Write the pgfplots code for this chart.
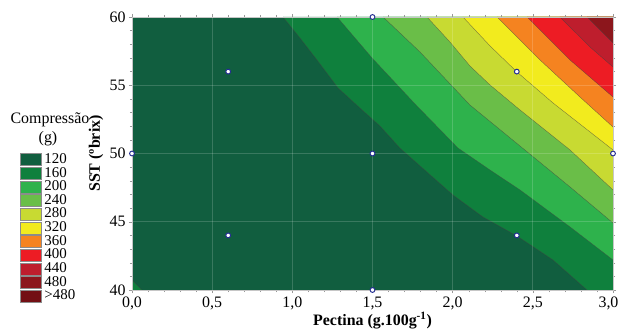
\documentclass[border=0pt]{standalone}
\usepackage{fontspec}
\setmainfont{Liberation Serif}
\usepackage{pgfplots}
\pgfplotsset{compat=1.18}

\definecolor{c120}{RGB}{17,94,63}
\definecolor{c160}{RGB}{15,128,61}
\definecolor{c200}{RGB}{46,178,76}
\definecolor{c240}{RGB}{106,190,72}
\definecolor{c280}{RGB}{200,218,50}
\definecolor{c320}{RGB}{242,235,30}
\definecolor{c360}{RGB}{245,131,32}
\definecolor{c400}{RGB}{237,28,36}
\definecolor{c440}{RGB}{190,30,45}
\definecolor{c480}{RGB}{140,22,28}
\definecolor{c500}{RGB}{115,15,20}
\definecolor{cpt}{RGB}{35,45,145}

\pgfplotsset{
  band/.style={draw=none, forget plot},
  cline/.style={draw=black!75, line width=0.35pt, opacity=0.7, forget plot},
}

\begin{document}
\begin{tikzpicture}
\path[use as bounding box] (0,0) rectangle (620bp,330bp);
\begin{axis}[
  at={(132bp,40bp)}, anchor=south west,
  width=481bp, height=273bp, scale only axis,
  xmin=0, xmax=3, ymin=40, ymax=60,
  xtick={0,0.5,1,1.5,2,2.5,3},
  xticklabels={{0,0},{0,5},{1,0},{1,5},{2,0},{2,5},{\hspace*{-9bp}3,0}},
  ytick={40,45,50,55,60},
  yticklabels={40,45,50,55,60},
  minor x tick num=4, minor y tick num=4,
  tick align=outside, major tick length=3bp, minor tick length=2bp,
  tick style={gray!80, line width=0.4pt},
  grid=major,
  major grid style={white, opacity=0.17, line width=0.7pt},
  axis line style={gray!45, line width=0.6pt},
  axis background/.style={fill=c120},
  axis on top,
  tick label style={font=\fontsize{16}{16}\selectfont},
  label style={font=\fontsize{16}{16}\selectfont},
  xlabel={\textbf{Pectina (g.100g\textsuperscript{-1})}},
  ylabel={\textbf{SST (ºbrix)}},
  xlabel style={at={(axis description cs:0.5,-0.113)}, anchor=center},
  ylabel style={at={(axis description cs:-0.075,0.5)}, anchor=center},
  legend image code/.code={\filldraw[#1, draw=black!45, line width=0.4pt] (0bp,-2.2bp) rectangle (21bp,9.8bp);},
  legend style={at={(axis description cs:-0.2328,0.5018)}, anchor=north west,
    draw=none, fill=none, inner sep=0pt, outer sep=0pt,
    row sep=0pt, column sep=3bp,
    font=\fontsize{15}{15}\selectfont,
    nodes={inner sep=0pt, outer sep=0pt, text height=10.4bp, text depth=3.24bp, anchor=base west}},
  legend cell align=left,
]
% filled bands (superlevel regions)
\addplot[band, fill=c160] coordinates {(0.942,60) (1.048,58.46) (1.154,56.85) (1.285,54.80) (1.422,53.33) (1.547,52.01) (1.671,50.40) (1.840,48.64) (2.002,46.96) (2.189,45.35) (2.401,43.96) (2.626,42.20) (2.838,40) (3,40) (3,60)};
\addplot[band, fill=c160] coordinates {(0,40) (0.062,40) (0,40.73)};
\addplot[band, fill=c200] coordinates {(1.279,60) (1.497,57.00) (1.765,53.63) (2.033,50.40) (2.233,48.79) (2.420,47.33) (2.732,44.62) (3.0,42.20) (3,60)};
\addplot[band, fill=c240] coordinates {(1.566,60) (1.796,57.44) (2.108,53.55) (2.420,50.55) (2.732,47.55) (3.0,44.91) (3,60)};
\addplot[band, fill=c280] coordinates {(1.840,60) (1.983,58.17) (2.108,56.41) (2.233,55.02) (2.420,53.19) (2.732,50.26) (3.0,47.33) (3,60)};
\addplot[band, fill=c320] coordinates {(2.064,60) (2.233,57.88) (2.401,55.97) (2.626,53.70) (2.825,51.87) (3.0,50.26) (3,60)};
\addplot[band, fill=c360] coordinates {(2.277,60) (2.545,56.85) (2.794,54.14) (3.0,51.94) (3,60)};
\addplot[band, fill=c400] coordinates {(2.464,60) (2.732,56.85) (3.0,54.14) (3,60)};
\addplot[band, fill=c440] coordinates {(2.669,60) (2.857,57.80) (3.0,56.34) (3,60)};
\addplot[band, fill=c480] coordinates {(2.838,60) (3.0,58.10) (3,60)};
% contour lines
\addplot[cline] coordinates {(0.942,60) (1.048,58.46) (1.154,56.85) (1.285,54.80) (1.422,53.33) (1.547,52.01) (1.671,50.40) (1.840,48.64) (2.002,46.96) (2.189,45.35) (2.401,43.96) (2.626,42.20) (2.838,40)};
\addplot[cline] coordinates {(0,40.73) (0.062,40)};
\addplot[cline] coordinates {(1.279,60) (1.497,57.00) (1.765,53.63) (2.033,50.40) (2.233,48.79) (2.420,47.33) (2.732,44.62) (3.0,42.20)};
\addplot[cline] coordinates {(1.566,60) (1.796,57.44) (2.108,53.55) (2.420,50.55) (2.732,47.55) (3.0,44.91)};
\addplot[cline] coordinates {(1.840,60) (1.983,58.17) (2.108,56.41) (2.233,55.02) (2.420,53.19) (2.732,50.26) (3.0,47.33)};
\addplot[cline] coordinates {(2.064,60) (2.233,57.88) (2.401,55.97) (2.626,53.70) (2.825,51.87) (3.0,50.26)};
\addplot[cline] coordinates {(2.277,60) (2.545,56.85) (2.794,54.14) (3.0,51.94)};
\addplot[cline] coordinates {(2.464,60) (2.732,56.85) (3.0,54.14)};
\addplot[cline] coordinates {(2.669,60) (2.857,57.80) (3.0,56.34)};
\addplot[cline] coordinates {(2.838,60) (3.0,58.10)};
% design points
\addplot[only marks, mark=*, mark size=2.4bp, mark options={fill=white, draw=cpt, line width=1pt}, forget plot]
  coordinates {(0.6,56) (0.6,44) (2.4,56) (2.4,44) (0,50) (3,50) (1.5,40) (1.5,60) (1.5,50)};
% legend
\addlegendimage{fill=c120}\addlegendentry{120}
\addlegendimage{fill=c160}\addlegendentry{160}
\addlegendimage{fill=c200}\addlegendentry{200}
\addlegendimage{fill=c240}\addlegendentry{240}
\addlegendimage{fill=c280}\addlegendentry{280}
\addlegendimage{fill=c320}\addlegendentry{320}
\addlegendimage{fill=c360}\addlegendentry{360}
\addlegendimage{fill=c400}\addlegendentry{400}
\addlegendimage{fill=c440}\addlegendentry{440}
\addlegendimage{fill=c480}\addlegendentry{480}
\addlegendimage{fill=c500}\addlegendentry{>480}
\end{axis}
\node[font=\fontsize{16}{16}\selectfont] at (50bp,210bp) {Compressão};
\node[font=\fontsize{16}{16}\selectfont] at (48bp,191bp) {(g)};
\end{tikzpicture}
\end{document}
